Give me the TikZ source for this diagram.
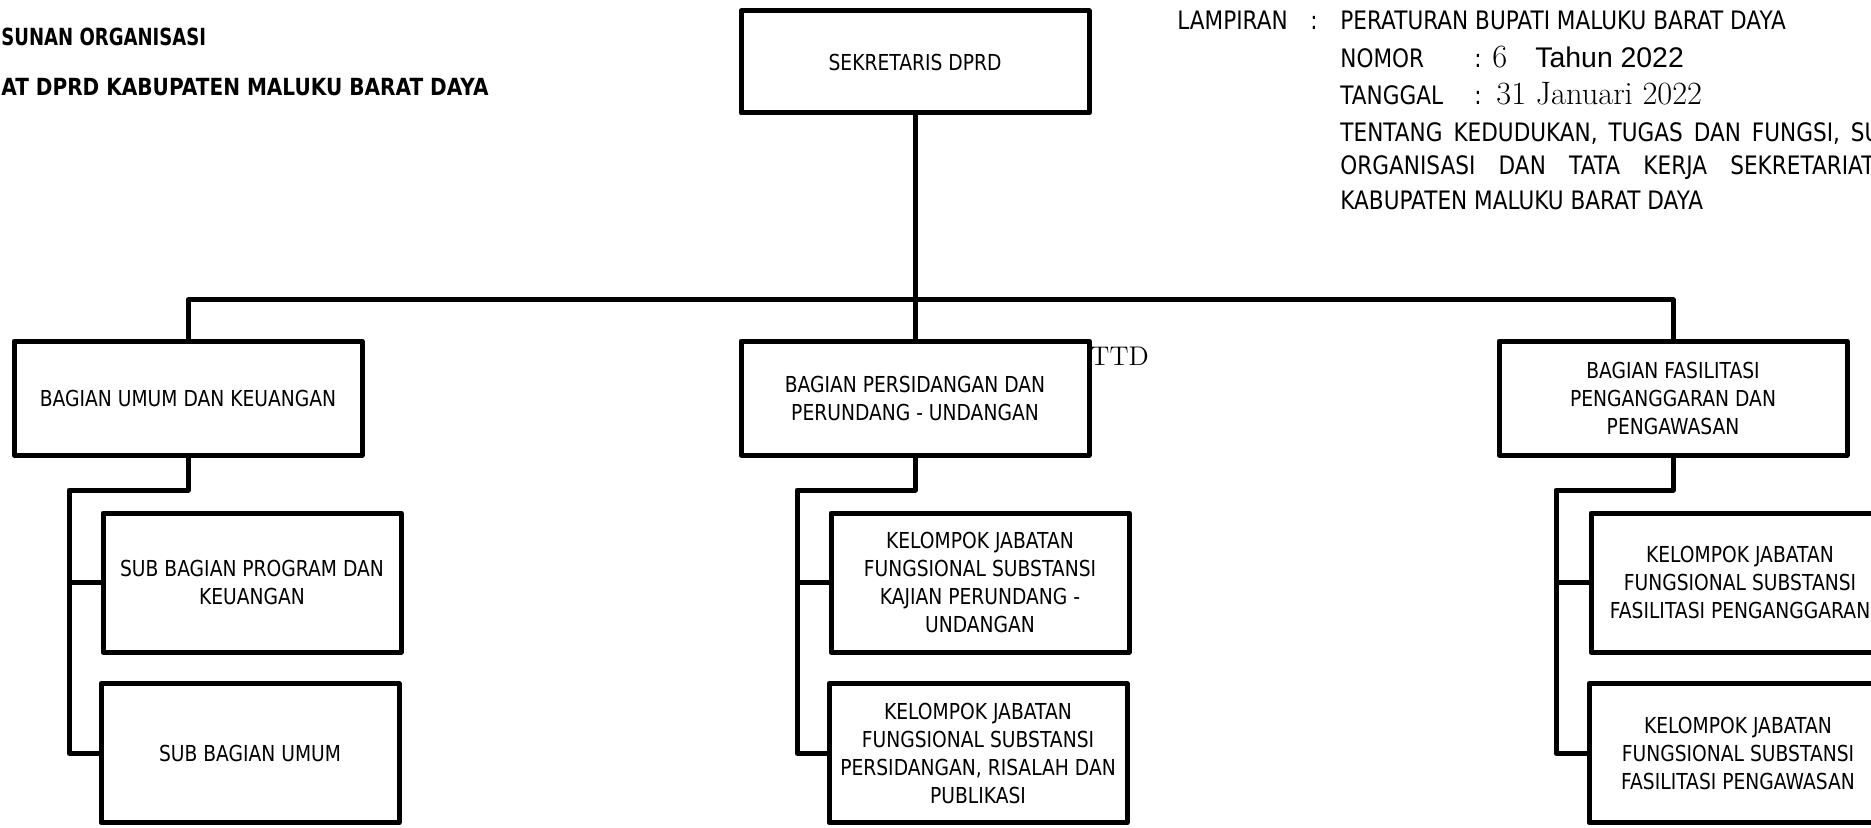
\documentclass[tikz,border=0pt]{standalone}
\usepackage{fontspec}
\newfontfamily\tah[FakeStretch=0.85]{DejaVu Sans}
\newfontfamily\ari{Liberation Sans}
\begin{document}
\begin{tikzpicture}[x=0.5pt,y=-0.5pt,
  orgbox/.style={draw, line width=2.5pt, line join=round, align=center, inner sep=0pt,
    font=\tah\fontsize{11}{14}\selectfont},
  topbox/.style={orgbox, minimum width=174pt, minimum height=51pt},
  midbox/.style={orgbox, minimum width=174pt, minimum height=57pt},
  subbox/.style={orgbox, minimum width=149pt, minimum height=69.5pt},
  conn/.style={line width=2.5pt, line join=round},
  hdr/.style={inner sep=0pt, anchor=base west, font=\tah\fontsize{12.7}{15}\selectfont},
  ttl/.style={inner sep=0pt, font=\tah\bfseries\fontsize{11.8}{14}\selectfont},
  serifv/.style={inner sep=0pt, anchor=base west, font=\rmfamily\fontsize{16.2}{19}\selectfont}]
\useasboundingbox (0,0) rectangle (1871,828);
\clip (0,0) rectangle (1871,828);
\fill[white] (0,0) rectangle (1871,828);

% title (left)
\node[ttl, anchor=west] (title1) at (1,37) {\scalebox{0.9}[1]{SUNAN ORGANISASI}};
\node[ttl, anchor=east] (title2) at (489,87) {AT DPRD KABUPATEN MALUKU BARAT DAYA};

% header (right)
\node[hdr] (lamp) at (1177,30) {LAMPIRAN};
\node[hdr] (lampc) at (1310,30) {:};
\node[hdr] (lampv) at (1340,30) {PERATURAN BUPATI MALUKU BARAT DAYA};
\node[hdr] (nom) at (1340,68) {NOMOR};
\node[hdr] (nomc) at (1474,68) {:};
\node[serifv] (nomv) at (1492,68) {6};
\node[inner sep=0pt, anchor=base west, font=\ari\fontsize{14.2}{18}\selectfont] (nomt) at (1535,68) {Tahun 2022};
\node[hdr] (tgl) at (1340,105) {TANGGAL};
\node[hdr] (tglc) at (1474,105) {:};
\node[serifv] (tglv) at (1496,105) {31 Januari 2022};
\node[hdr] (ten1) at (1340,142) {\makebox[270pt][s]{TENTANG KEDUDUKAN, TUGAS DAN FUNGSI, SU}};
\node[hdr] (ten2) at (1340,175) {\makebox[267pt][s]{ORGANISASI DAN TATA KERJA SEKRETARIAT}};
\node[hdr] (ten3) at (1340,210) {KABUPATEN MALUKU BARAT DAYA};

% boxes
\node[topbox] (sek) at (915,62) {SEKRETARIS DPRD};
\node[midbox] (umum) at (188,398) {BAGIAN UMUM DAN KEUANGAN};
\node[midbox] (pers) at (915,398) {BAGIAN PERSIDANGAN DAN\\PERUNDANG - UNDANGAN};
\node[midbox] (fas) at (1673,398) {BAGIAN FASILITASI\\PENGANGGARAN DAN\\PENGAWASAN};

\node[subbox] (u1) at (252,582.5) {SUB BAGIAN PROGRAM DAN\\KEUANGAN};
\node[subbox] (u2) at (250,753) {SUB BAGIAN UMUM};
\node[subbox] (p1) at (980,582.5) {KELOMPOK JABATAN\\FUNGSIONAL SUBSTANSI\\KAJIAN PERUNDANG -\\UNDANGAN};
\node[subbox] (p2) at (978,753) {KELOMPOK JABATAN\\FUNGSIONAL SUBSTANSI\\PERSIDANGAN, RISALAH DAN\\PUBLIKASI};
\node[subbox] (f1) at (1740,582.5) {KELOMPOK JABATAN\\FUNGSIONAL SUBSTANSI\\FASILITASI PENGANGGARAN};
\node[subbox] (f2) at (1738,753) {KELOMPOK JABATAN\\FUNGSIONAL SUBSTANSI\\FASILITASI PENGAWASAN};

\node[inner sep=0pt, anchor=west, font=\rmfamily\fontsize{13.5}{16}\selectfont] (ttd) at (1090,356) {TTD};

% connectors
\coordinate (bus) at (915,300);
\draw[conn] (sek.south) -- (pers.north);
\draw[conn] (umum.north) -- (umum.north |- bus) -- (fas.north |- bus) -- (fas.north);

\coordinate (uel) at (69,490);
\coordinate (pel) at (797,490);
\coordinate (fel) at (1556,490);
\draw[conn] (umum.south) |- (uel) |- (u2.west);
\draw[conn] (uel |- u1.west) -- (u1.west);
\draw[conn] (pers.south) |- (pel) |- (p2.west);
\draw[conn] (pel |- p1.west) -- (p1.west);
\draw[conn] (fas.south) |- (fel) |- (f2.west);
\draw[conn] (fel |- f1.west) -- (f1.west);
\end{tikzpicture}
\end{document}
